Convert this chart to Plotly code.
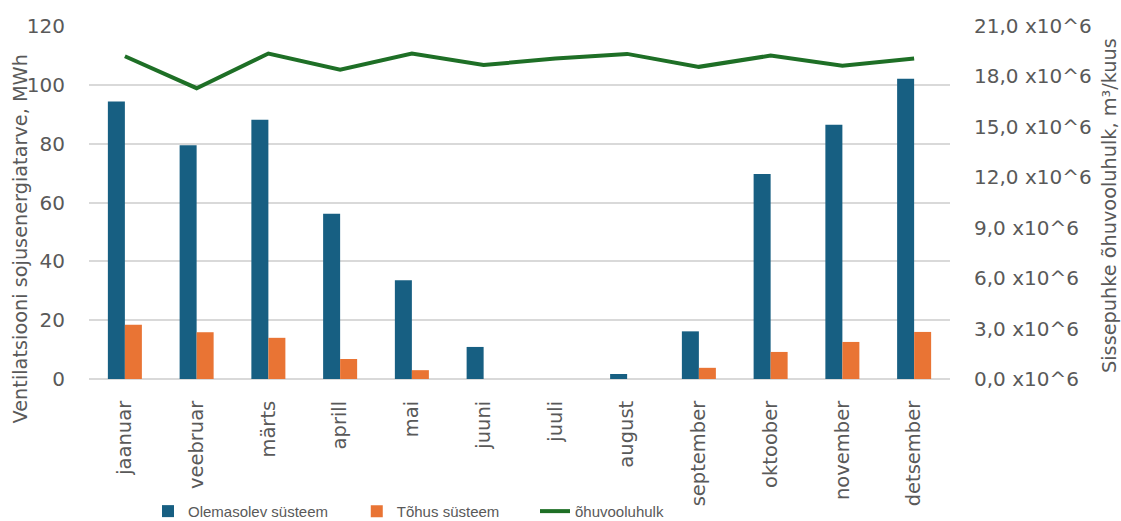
import plotly.graph_objects as go

months = ["jaanuar", "veebruar", "märts", "aprill", "mai", "juuni",
          "juuli", "august", "september", "oktoober", "november", "detsember"]

# Ventilation heating energy demand, MWh
olemasolev = [94.3, 79.5, 88.1, 56.2, 33.6, 10.9, 0.0, 1.7, 16.2, 69.7, 86.4, 102.1]
tohus = [18.4, 15.9, 14.0, 6.8, 3.0, 0.0, 0.0, 0.0, 3.8, 9.2, 12.6, 16.0]

# Supply air volume, m3 per month
ohuvool = [19.2e6, 17.3e6, 19.36e6, 18.4e6, 19.36e6, 18.68e6,
           19.06e6, 19.34e6, 18.57e6, 19.24e6, 18.64e6, 19.06e6]

left_ticks = [0, 20, 40, 60, 80, 100, 120]
right_ticks = [0, 3e6, 6e6, 9e6, 12e6, 15e6, 18e6, 21e6]
right_labels = ["0,0 x10^6", "3,0 x10^6", "6,0 x10^6", "9,0 x10^6",
                "12,0 x10^6", "15,0 x10^6", "18,0 x10^6", "21,0 x10^6"]

BLUE = "#175f82"
ORANGE = "#e97434"
GREEN = "#1e6f26"
GREY = "#595959"
FONT = "Verdana, 'DejaVu Sans', sans-serif"
LEGEND_FONT = "'Liberation Sans Narrow', 'Arial Narrow', 'Liberation Sans', Arial, sans-serif"

# plot area in pixels (used to place the rotated axis titles)
PLOT_L, PLOT_W = 89, 861
PLOT_BOTTOM, PLOT_H = 379.3, 353.6

fig = go.Figure()
fig.add_trace(go.Bar(x=months, y=olemasolev, name="Olemasolev süsteem",
                     legend="legend", marker=dict(color=BLUE, line=dict(width=0))))
fig.add_trace(go.Bar(x=months, y=tohus, name="Tõhus süsteem",
                     legend="legend2", marker=dict(color=ORANGE, line=dict(width=0))))
fig.add_trace(go.Scatter(x=months, y=ohuvool, name="õhuvooluhulk", yaxis="y2",
                         legend="legend3", mode="lines",
                         line=dict(color=GREEN, width=4)))

legend_common = dict(orientation="h", xanchor="left", y=-0.375, yanchor="middle",
                     font=dict(family=LEGEND_FONT, size=15, color=GREY),
                     itemwidth=30, bgcolor="rgba(0,0,0,0)")

fig.update_layout(
    width=1121, height=521,
    margin=dict(l=89, r=171, t=26, b=142, autoexpand=False),
    paper_bgcolor="white", plot_bgcolor="white",
    barmode="group", bargap=0.526, bargroupgap=0,
    font=dict(family=FONT, size=20, color=GREY),
    showlegend=True,
    legend=dict(x=0.0685, **legend_common),
    legend2=dict(x=0.311, **legend_common),
    legend3=dict(x=0.518, **legend_common),
    xaxis=dict(tickangle=-90, showgrid=False, showline=False,
               ticks="outside", ticklen=13, tickcolor="rgba(0,0,0,0)",
               tickfont=dict(size=19.5, color=GREY)),
    yaxis=dict(range=[0, 120], tickvals=left_ticks, showgrid=True,
               gridcolor="#d9d9d9", gridwidth=1.5, zeroline=True,
               zerolinecolor="#d9d9d9", zerolinewidth=1.5,
               ticks="outside", ticklen=19, tickcolor="rgba(0,0,0,0)"),
    yaxis2=dict(range=[0, 21e6], overlaying="y", side="right",
                tickvals=right_ticks, ticktext=right_labels, showgrid=False,
                zeroline=False, ticks="outside", ticklen=19,
                tickcolor="rgba(0,0,0,0)"),
    annotations=[
        dict(text="Ventilatsiooni sojusenergiatarve, MWh", textangle=-90,
             xref="paper", yref="paper",
             x=(20 - PLOT_L) / PLOT_W, y=(PLOT_BOTTOM - 239.5) / PLOT_H,
             xanchor="center", yanchor="middle", showarrow=False,
             font=dict(size=19.3, color=GREY)),
        dict(text="Sissepuhke õhuvooluhulk, m³/kuus", textangle=-90,
             xref="paper", yref="paper",
             x=(1110 - PLOT_L) / PLOT_W, y=(PLOT_BOTTOM - 206) / PLOT_H,
             xanchor="center", yanchor="middle", showarrow=False,
             font=dict(size=19.3, color=GREY)),
    ],
)

fig.write_html("out.html")
